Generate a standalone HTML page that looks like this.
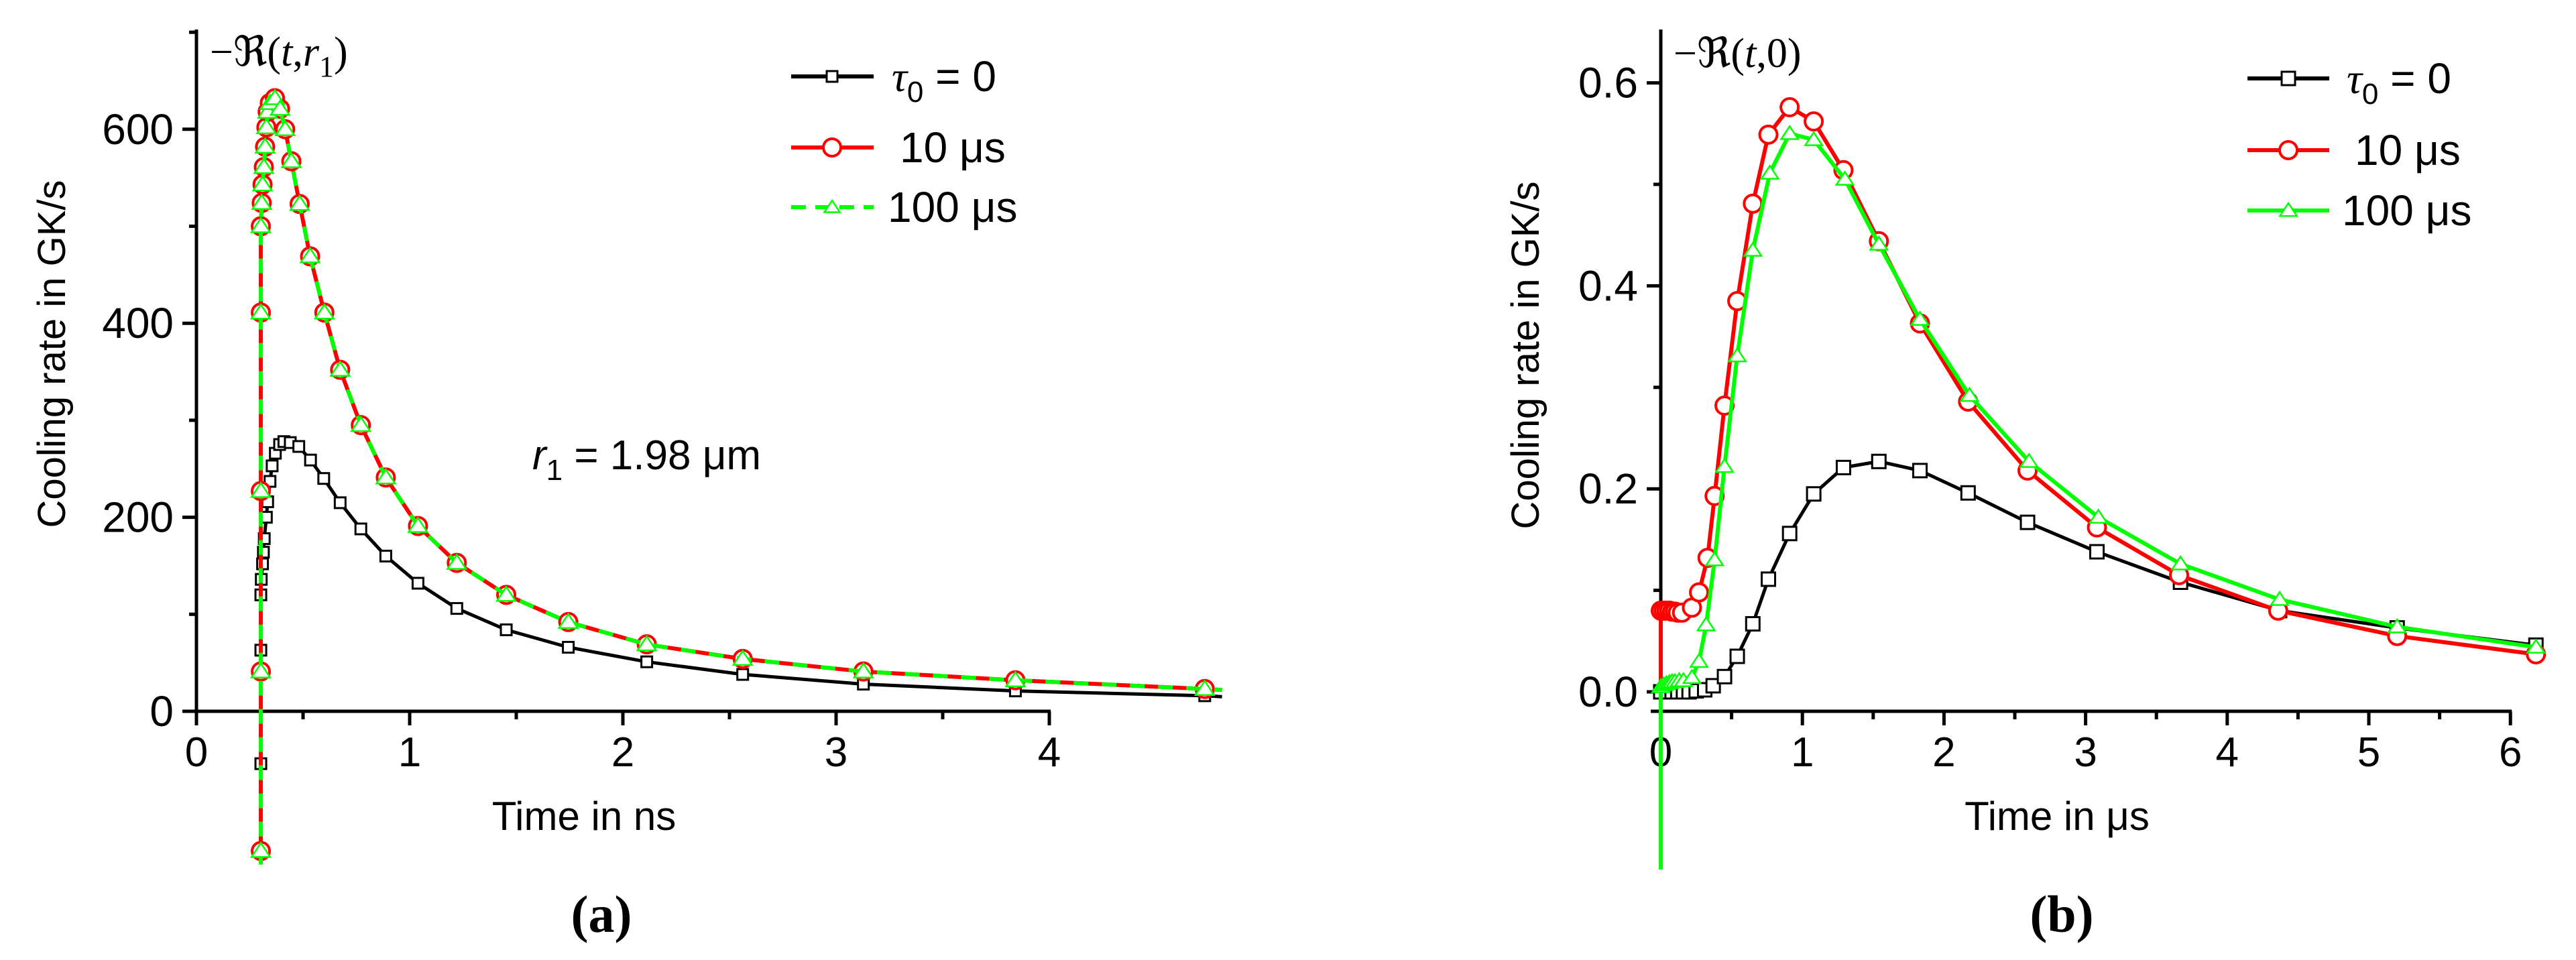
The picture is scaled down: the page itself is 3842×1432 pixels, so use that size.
<!DOCTYPE html>
<html><head><meta charset="utf-8"><style>
html,body{margin:0;padding:0;background:#fff}
svg{display:block}
.n{font-family:"Liberation Sans Narrow","Liberation Sans",sans-serif}
.s{font-family:"Liberation Sans",sans-serif}
.r{font-family:"Liberation Serif","DejaVu Serif",serif}
</style></head><body>
<svg id="c" width="3842" height="1432" viewBox="0 0 3842 1432" xmlns="http://www.w3.org/2000/svg">
<g id="ga"></g>
<g id="gb"></g>
</svg>
<script>
// Panel a data (time in ns, rate in GK/s)
const aRedX=[0.302,0.302,0.302,0.302,0.302,0.306,0.310,0.316,0.322,0.328,0.334,0.344,0.368,0.392,0.416,0.445,0.484,0.533,0.60,0.674,0.771,0.888,1.039,1.221,1.453,1.744,2.112,2.562,3.128,3.841,4.729];
const aRedY=[-144,41,227,411,500,524,543,561,582,602,618,627,632,621,600,567,523,469,411,352,295,241,191,153,120,92,69,54,41,32,23];
const aBlkX=[0.302,0.302,0.302,0.304,0.31,0.314,0.318,0.328,0.334,0.345,0.355,0.37,0.39,0.41,0.44,0.48,0.535,0.597,0.674,0.771,0.888,1.039,1.221,1.453,1.744,2.112,2.562,3.128,3.841,4.729];
const aBlkY=[-54,63,120,136,152,164,178,200,216,237,253,266,275,278,277,273,259,240,215,188,160,132,106,84,66,51,38,28,21,16];
const aXTicks=[0,1,2,3,4];
const aYTicks=[0,200,400,600];
// Panel b data (time in µs, rate in GK/s)
const bRedX=[0,0.02,0.04,0.06,0.08,0.10,0.12,0.15,0.22,0.27,0.33,0.38,0.45,0.54,0.65,0.76,0.91,1.08,1.29,1.54,1.83,2.17,2.59,3.08,3.66,4.36,5.20,6.18];
const bRedY=[0.080,0.080,0.080,0.080,0.079,0.079,0.078,0.078,0.083,0.098,0.132,0.193,0.282,0.385,0.481,0.549,0.576,0.562,0.514,0.444,0.363,0.286,0.218,0.162,0.115,0.080,0.055,0.037];
const bGrnX=[0,0.02,0.04,0.06,0.08,0.10,0.13,0.16,0.22,0.27,0.32,0.38,0.45,0.54,0.65,0.77,0.91,1.08,1.30,1.54,1.83,2.18,2.60,3.09,3.67,4.37,5.20,6.18];
const bGrnY=[0.005,0.007,0.008,0.009,0.010,0.010,0.011,0.011,0.014,0.030,0.066,0.130,0.222,0.331,0.435,0.511,0.550,0.544,0.505,0.441,0.367,0.292,0.227,0.172,0.126,0.091,0.064,0.044];
const bBlkX=[0,0.04,0.08,0.12,0.16,0.2,0.25,0.31,0.37,0.45,0.54,0.65,0.76,0.91,1.08,1.29,1.54,1.83,2.17,2.59,3.08,3.67,4.37,5.2,6.18];
const bBlkY=[0,0,0,0,0,0,0.001,0.002,0.006,0.015,0.035,0.067,0.111,0.156,0.195,0.221,0.227,0.218,0.196,0.167,0.138,0.108,0.080,0.063,0.046];
const bXTicks=[0,1,2,3,4,5,6];
const bYTicks=[0,0.2,0.4,0.6];

const NS='http://www.w3.org/2000/svg';
function mk(p,tag,at,txt){const e=document.createElementNS(NS,tag);for(const k in at)e.setAttribute(k,at[k]);if(txt!==undefined)e.textContent=txt;p.appendChild(e);return e;}

function pts(xs,ys,X,Y){return xs.map((v,i)=>X(v).toFixed(1)+','+Y(ys[i]).toFixed(1)).join(' ');}
function marker(g,type,x,y,col,r){
  let e;
  if(type==='sq') e=mk(g,'rect',{x:x-r,y:y-r,width:2*r,height:2*r,fill:'#fff',stroke:col,'stroke-width':3});
  else if(type==='ci') e=mk(g,'circle',{cx:x,cy:y,r:r,fill:'#fff',stroke:col,'stroke-width':4});
  else e=mk(g,'polygon',{points:`${x},${y-r} ${x-r*1.15},${y+r*0.75} ${x+r*1.15},${y+r*0.75}`,fill:'#fff',stroke:col,'stroke-width':2.5});
  
  
}

// ---------- Panel A ----------
(function(){
const g=document.getElementById('ga');
const x0=293,pxX=318,y0=1061,pxY=1.447;
const X=v=>x0+v*pxX, Y=v=>y0-v*pxY;
let e;
e=mk(g,'line',{x1:x0,y1:44,x2:x0,y2:1082,stroke:'#000','stroke-width':5});

e=mk(g,'line',{x1:272,y1:y0,x2:X(4)+2,y2:y0,stroke:'#000','stroke-width':5});

for(let v=0;v<=700;v+=100){const yy=Y(v);const maj=v%200===0;
 e=mk(g,'line',{x1:maj?272:282,y1:yy,x2:x0,y2:yy,stroke:'#000','stroke-width':5});
 }
for(let v=0;v<=4;v+=0.5){const xx=X(v);const maj=v%1===0;
 e=mk(g,'line',{x1:xx,y1:y0,x2:xx,y2:maj?1082:1073,stroke:'#000','stroke-width':5});
 }
aYTicks.forEach(v=>{e=mk(g,'text',{x:259,y:Y(v)+22,'text-anchor':'end','font-size':64,class:'n'},String(v));
 });
aXTicks.forEach(v=>{e=mk(g,'text',{x:X(v),y:1143,'text-anchor':'middle','font-size':62,class:'n'},String(v));
 });
e=mk(g,'text',{x:871,y:1238,'text-anchor':'middle','font-size':60,class:'n'},'Time in ns');

e=mk(g,'text',{x:0,y:0,'text-anchor':'middle','font-size':58,class:'s',transform:'translate(97,528) rotate(-90)'},'Cooling rate in GK/s');

e=mk(g,'text',{x:313,y:98,'font-size':62,class:'r'});
e.innerHTML='−ℜ(<tspan font-style="italic">t</tspan>,<tspan font-style="italic">r</tspan><tspan font-size="44" dy="16">1</tspan><tspan dy="-16">)</tspan>';

e=mk(g,'text',{x:794,y:700,'font-size':62,class:'n'});
e.innerHTML='<tspan font-style="italic">r</tspan><tspan font-size="44" dy="16">1</tspan><tspan dy="-16"> = 1.98 μm</tspan>';

e=mk(g,'text',{x:897,y:1390,'text-anchor':'middle','font-size':78,'font-weight':'bold',class:'r'},'(a)');

// series
const bx=aBlkX.concat([4.81]), by=aBlkY.concat([15]);
e=mk(g,'polyline',{points:pts(bx,by,X,Y),fill:'none',stroke:'#000','stroke-width':5});

aBlkX.forEach((v,i)=>marker(g,'sq',X(v),Y(aBlkY[i]),'#000',8));
const rx=[0.302].concat(aRedX,[4.81]), ry=[-158].concat(aRedY,[22]);
e=mk(g,'polyline',{points:pts(rx,ry,X,Y),fill:'none',stroke:'#f00','stroke-width':6});

aRedX.forEach((v,i)=>marker(g,'ci',X(v),Y(aRedY[i]),'#f00',13));
e=mk(g,'polyline',{points:pts(rx,ry,X,Y),fill:'none',stroke:'#0f0','stroke-width':6,'stroke-dasharray':'22 20'});

aRedX.forEach((v,i)=>marker(g,'tr',X(v),Y(aRedY[i]),'#0f0',12));
// legend
const L=[['τ',114,'#000','sq',1330],['10 μs',220,'#f00','ci',1342],['100 μs',309,'#0f0','tr',1324]];
L.forEach((l,i)=>{
 e=mk(g,'line',{x1:1180,y1:l[1],x2:1303,y2:l[1],stroke:i==2?'#0f0':l[2],'stroke-width':6,'stroke-dasharray':i==2?'22 14':'none'});
 
 marker(g,l[3],1241,l[1],l[2],i==1?13:(i==0?8:10));
 e=mk(g,'text',{x:l[4],y:l[1]+22,'font-size':64,class:'n'});
 if(i==0) e.innerHTML='<tspan font-style="italic" font-family="Liberation Serif">τ</tspan><tspan font-size="44" dy="16">0</tspan><tspan dy="-16"> = 0</tspan>';
 else e.textContent=l[0];
 
});
})();

// ---------- Panel B ----------
(function(){
const g=document.getElementById('gb');
const x0=2477,pxX=211.2,yz=1032,pxY=1514,ax=1061;
const X=v=>x0+v*pxX, Y=v=>yz-v*pxY;
let e;
e=mk(g,'line',{x1:x0,y1:44,x2:x0,y2:ax,stroke:'#000','stroke-width':5});

e=mk(g,'line',{x1:2462,y1:ax,x2:X(6)+2,y2:ax,stroke:'#000','stroke-width':5});

for(let k=0;k<=6;k++){const v=k/10;const yy=Y(v);const maj=k%2===0;
 e=mk(g,'line',{x1:maj?2456:2466,y1:yy,x2:x0,y2:yy,stroke:'#000','stroke-width':5});
 }
for(let v=0;v<=6;v+=0.5){const xx=X(v);const maj=v%1===0;
 e=mk(g,'line',{x1:xx,y1:ax,x2:xx,y2:maj?1082:1073,stroke:'#000','stroke-width':5});
 }
bYTicks.forEach(v=>{e=mk(g,'text',{x:2443,y:Y(v)+22,'text-anchor':'end','font-size':64,class:'n'},v.toFixed(1));
 });
bXTicks.forEach(v=>{e=mk(g,'text',{x:X(v),y:1143,'text-anchor':'middle','font-size':62,class:'n'},String(v));
 });
e=mk(g,'text',{x:3068,y:1238,'text-anchor':'middle','font-size':60,class:'n'},'Time in μs');

e=mk(g,'text',{x:0,y:0,'text-anchor':'middle','font-size':58,class:'s',transform:'translate(2295,530) rotate(-90)'},'Cooling rate in GK/s');

e=mk(g,'text',{x:2496,y:100,'font-size':62,class:'r'});
e.innerHTML='−ℜ(<tspan font-style="italic">t</tspan>,0)';

e=mk(g,'text',{x:3075,y:1390,'text-anchor':'middle','font-size':78,'font-weight':'bold',class:'r'},'(b)');

// black
e=mk(g,'polyline',{points:pts(bBlkX,bBlkY,X,Y),fill:'none',stroke:'#000','stroke-width':5});

bBlkX.forEach((v,i)=>marker(g,'sq',X(v),Y(bBlkY[i]),'#000',10));
// red
e=mk(g,'polyline',{points:pts([0].concat(bRedX),[-0.005].concat(bRedY),X,Y),fill:'none',stroke:'#f00','stroke-width':6});

bRedX.forEach((v,i)=>marker(g,'ci',X(v),Y(bRedY[i]),'#f00',13));
// green
e=mk(g,'polyline',{points:pts([0].concat(bGrnX),[-0.175].concat(bGrnY),X,Y),fill:'none',stroke:'#0f0','stroke-width':6});

bGrnX.forEach((v,i)=>marker(g,'tr',X(v),Y(bGrnY[i]),'#0f0',11));
// legend
const L=[['τ',117,'#000','sq',3500],['10 μs',224,'#f00','ci',3512],['100 μs',314,'#0f0','tr',3493]];
L.forEach((l,i)=>{
 e=mk(g,'line',{x1:3352,y1:l[1],x2:3474,y2:l[1],stroke:l[2],'stroke-width':6});
 
 marker(g,l[3],3413,l[1],l[2],i==1?13:(i==0?10:11));
 e=mk(g,'text',{x:l[4],y:l[1]+22,'font-size':64,class:'n'});
 if(i==0) e.innerHTML='<tspan font-style="italic" font-family="Liberation Serif">τ</tspan><tspan font-size="44" dy="16">0</tspan><tspan dy="-16"> = 0</tspan>';
 else e.textContent=l[0];
 
});
})();
</script>
</body></html>
